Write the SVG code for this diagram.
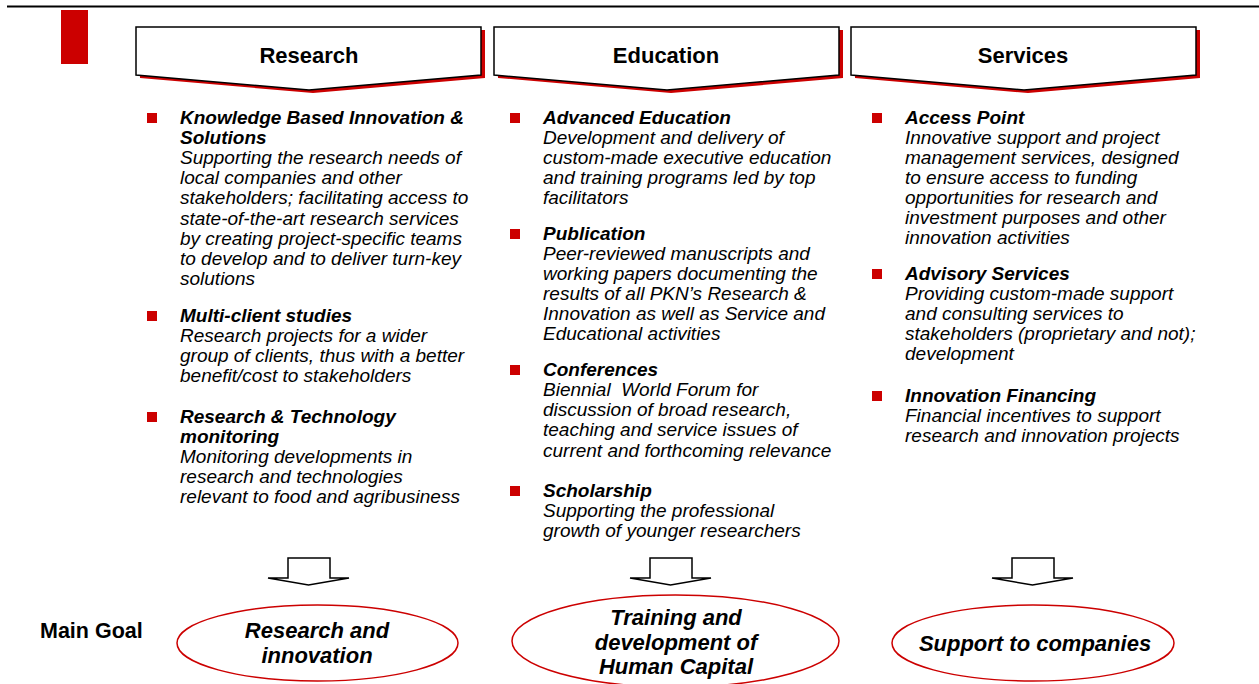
<svg xmlns="http://www.w3.org/2000/svg" width="1259" height="684" viewBox="0 0 1259 684">
<defs>
<style>
.hdr{fill:#fff;stroke:#000;stroke-width:1.5}
.shd{fill:#CC0000}
.ht{font-family:"Liberation Sans",Arial,sans-serif;font-weight:bold;font-size:22px;text-anchor:middle;fill:#000}
.b{fill:#CC0000}
.t{font-family:"Liberation Sans",Arial,sans-serif;font-style:italic;font-size:19px;fill:#000}
.tb{font-weight:bold}
.arr{fill:#fff;stroke:#000;stroke-width:1.5;stroke-linejoin:miter}
.ell{fill:#fff;stroke:#CC0000;stroke-width:1.5}
.et{font-family:"Liberation Sans",Arial,sans-serif;font-style:italic;font-weight:bold;font-size:22px;text-anchor:middle;fill:#000}
</style>
<path id="pent" d="M0,0 H345 V48 L173,63 L0,48 Z"/>
</defs>
<rect width="1259" height="684" fill="#fff"/>
<line x1="7" y1="6.5" x2="1259" y2="6.5" stroke="#000" stroke-width="2"/>
<rect x="61" y="10" width="27" height="54" fill="#CC0000"/>

<g id="hdr-research">
<use href="#pent" x="140" y="30" class="shd"/>
<use href="#pent" x="136" y="27" class="hdr"/>
<text class="ht" x="309" y="63">Research</text>
</g>
<g id="hdr-education">
<use href="#pent" x="498" y="30" class="shd"/>
<use href="#pent" x="494" y="27" class="hdr"/>
<text class="ht" x="666" y="63">Education</text>
</g>
<g id="hdr-services">
<use href="#pent" x="855" y="30" class="shd"/>
<use href="#pent" x="851" y="27" class="hdr"/>
<text class="ht" x="1023" y="63">Services</text>
</g>

<g id="list-research">
<rect class="b" x="147" y="113" width="10" height="10"/>
<rect class="b" x="147" y="311" width="10" height="10"/>
<rect class="b" x="147" y="412" width="10" height="10"/>
<text class="t">
<tspan class="tb" x="180" y="124">Knowledge Based Innovation &amp;</tspan>
<tspan class="tb" x="180" y="144.1">Solutions</tspan>
<tspan x="180" y="164.2">Supporting the research needs of</tspan>
<tspan x="180" y="184.3">local companies and other</tspan>
<tspan x="180" y="204.4">stakeholders; facilitating access to</tspan>
<tspan x="180" y="224.5">state-of-the-art research services</tspan>
<tspan x="180" y="244.6">by creating project-specific teams</tspan>
<tspan x="180" y="264.7">to develop and to deliver turn-key</tspan>
<tspan x="180" y="284.8">solutions</tspan>
<tspan class="tb" x="180" y="322">Multi-client studies</tspan>
<tspan x="180" y="342">Research projects for a wider</tspan>
<tspan x="180" y="362">group of clients, thus with a better</tspan>
<tspan x="180" y="382">benefit/cost to stakeholders</tspan>
<tspan class="tb" x="180" y="423">Research &amp; Technology</tspan>
<tspan class="tb" x="180" y="443">monitoring</tspan>
<tspan x="180" y="463">Monitoring developments in</tspan>
<tspan x="180" y="483">research and technologies</tspan>
<tspan x="180" y="503">relevant to food and agribusiness</tspan>
</text>
</g>

<g id="list-education">
<rect class="b" x="510" y="113" width="10" height="10"/>
<rect class="b" x="510" y="229" width="10" height="10"/>
<rect class="b" x="510" y="365" width="10" height="10"/>
<rect class="b" x="510" y="486" width="10" height="10"/>
<text class="t">
<tspan class="tb" x="543" y="124">Advanced Education</tspan>
<tspan x="543" y="144">Development and delivery of</tspan>
<tspan x="543" y="164">custom-made executive education</tspan>
<tspan x="543" y="184">and training programs led by top</tspan>
<tspan x="543" y="204">facilitators</tspan>
<tspan class="tb" x="543" y="240">Publication</tspan>
<tspan x="543" y="260">Peer-reviewed manuscripts and</tspan>
<tspan x="543" y="280">working papers documenting the</tspan>
<tspan x="543" y="300">results of all PKN’s Research &amp;</tspan>
<tspan x="543" y="320">Innovation as well as Service and</tspan>
<tspan x="543" y="340">Educational activities</tspan>
<tspan class="tb" x="543" y="376">Conferences</tspan>
<tspan x="543" y="396" xml:space="preserve">Biennial  World Forum for</tspan>
<tspan x="543" y="416">discussion of broad research,</tspan>
<tspan x="543" y="436">teaching and service issues of</tspan>
<tspan x="543" y="456.5">current and forthcoming relevance</tspan>
<tspan class="tb" x="543" y="497">Scholarship</tspan>
<tspan x="543" y="517">Supporting the professional</tspan>
<tspan x="543" y="537">growth of younger researchers</tspan>
</text>
</g>

<g id="list-services">
<rect class="b" x="872" y="113" width="10" height="10"/>
<rect class="b" x="872" y="269" width="10" height="10"/>
<rect class="b" x="872" y="391" width="10" height="10"/>
<text class="t">
<tspan class="tb" x="905" y="124">Access Point</tspan>
<tspan x="905" y="144">Innovative support and project</tspan>
<tspan x="905" y="164">management services, designed</tspan>
<tspan x="905" y="184">to ensure access to funding</tspan>
<tspan x="905" y="204">opportunities for research and</tspan>
<tspan x="905" y="224">investment purposes and other</tspan>
<tspan x="905" y="244">innovation activities</tspan>
<tspan class="tb" x="905" y="280">Advisory Services</tspan>
<tspan x="905" y="300">Providing custom-made support</tspan>
<tspan x="905" y="320">and consulting services to</tspan>
<tspan x="905" y="340">stakeholders (proprietary and not);</tspan>
<tspan x="905" y="360">development</tspan>
<tspan class="tb" x="905" y="402">Innovation Financing</tspan>
<tspan x="905" y="422">Financial incentives to support</tspan>
<tspan x="905" y="442">research and innovation projects</tspan>
</text>
</g>

<g id="connectors">
<path class="arr" d="M288,578 V558 H330 V578 H349 L308.5,585 L268,578 Z"/>
<path class="arr" d="M650,578 V558 H692 V578 H711 L670.5,585 L630,578 Z"/>
<path class="arr" d="M1012,578 V558 H1054 V578 H1073 L1032.5,585 L992,578 Z"/>
</g>

<g id="main-goal-label">
<text x="40" y="638" font-family="Liberation Sans, Arial, sans-serif" font-weight="bold" font-size="21.5" fill="#000">Main Goal</text>
</g>
<g id="goal-research">
<ellipse class="ell" cx="317.5" cy="643" rx="140.5" ry="38"/>
<text class="et" x="317" y="638">Research and</text>
<text class="et" x="317" y="662.5">innovation</text>
</g>
<g id="goal-education">
<ellipse class="ell" cx="675.5" cy="641" rx="163.5" ry="46"/>
<text class="et" x="676" y="625">Training and</text>
<text class="et" x="676" y="650">development of</text>
<text class="et" x="676" y="673.5">Human Capital</text>
</g>
<g id="goal-services">
<ellipse class="ell" cx="1033" cy="643" rx="141" ry="38"/>
<text class="et" x="1035" y="651">Support to companies</text>
</g>
</svg>
